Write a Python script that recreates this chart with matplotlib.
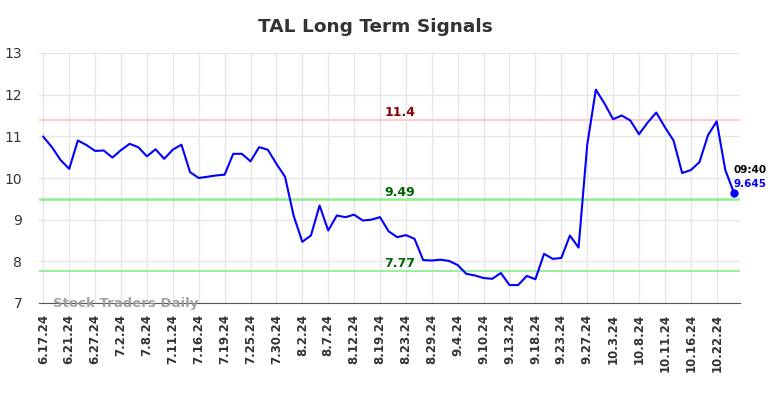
import matplotlib
import matplotlib.pyplot as plt

matplotlib.use("Agg")

# Price series (one value per trading session, oldest first)
prices = [
    10.99, 10.74, 10.43, 10.22, 10.90, 10.79, 10.65, 10.66, 10.49, 10.67,
    10.82, 10.74, 10.52, 10.69, 10.46, 10.68, 10.80, 10.14, 10.00, 10.03,
    10.06, 10.08, 10.58, 10.58, 10.40, 10.74, 10.68, 10.34, 10.03, 9.09,
    8.47, 8.62, 9.34, 8.74, 9.10, 9.06, 9.12, 8.98, 9.00, 9.06,
    8.72, 8.58, 8.63, 8.54, 8.03, 8.02, 8.04, 8.01, 7.91, 7.70,
    7.66, 7.60, 7.58, 7.72, 7.43, 7.43, 7.65, 7.57, 8.18, 8.06,
    8.08, 8.62, 8.33, 10.79, 12.12, 11.79, 11.41, 11.50, 11.38, 11.05,
    11.33, 11.57, 11.22, 10.90, 10.12, 10.19, 10.38, 11.03, 11.36, 10.19,
    9.645,
]

tick_labels = [
    "6.17.24", "6.21.24", "6.27.24", "7.2.24", "7.8.24", "7.11.24", "7.16.24",
    "7.19.24", "7.25.24", "7.30.24", "8.2.24", "8.7.24", "8.12.24", "8.19.24",
    "8.23.24", "8.29.24", "9.4.24", "9.10.24", "9.13.24", "9.18.24", "9.23.24",
    "9.27.24", "10.3.24", "10.8.24", "10.11.24", "10.16.24", "10.22.24",
]

resistance = 11.4
mid_level = 9.49
support = 7.77
last_time = "09:40"

fig = plt.figure(figsize=(7.84, 3.98), dpi=100)
ax = fig.add_axes([39 / 784, 95 / 398, 701 / 784, 250 / 398])

x = list(range(len(prices)))

# Grid and spines
ax.grid(True, color="#e6e6e6", linewidth=1)
ax.set_axisbelow(True)
for side in ["left", "right", "top"]:
    ax.spines[side].set_visible(False)
ax.spines["bottom"].set_color("#555555")

# Signal levels
ax.axhline(resistance, color="#ffcccc", linewidth=1.5)
ax.axhline(mid_level, color="#90ee90", linewidth=1.8)
ax.axhline(support, color="#90ee90", linewidth=1.3)

label_x = 41.3
ax.text(label_x, resistance + 0.17, f"{resistance}", color="#8b0000",
        fontsize=9, fontweight="bold", ha="center", va="center")
ax.text(label_x, mid_level + 0.17, f"{mid_level}", color="#006400",
        fontsize=9, fontweight="bold", ha="center", va="center")
ax.text(label_x, support + 0.17, f"{support}", color="#006400",
        fontsize=9, fontweight="bold", ha="center", va="center")

# Price line and last point
ax.plot(x, prices, color="blue", linewidth=1.5)
ax.plot(x[-1], prices[-1], "o", color="blue", markersize=5)
ax.text(x[-1], prices[-1] + 0.55, last_time, color="black", fontsize=7.5,
        fontweight="bold", ha="left", va="center")
ax.text(x[-1], prices[-1] + 0.22, f"{prices[-1]}", color="blue", fontsize=7.5,
        fontweight="bold", ha="left", va="center")

# Watermark
ax.text(1.1, 7.0, "Stock Traders Daily", color="#999999", fontsize=9.5,
        fontweight="bold", ha="left", va="center", alpha=0.9)

ax.set_xlim(-0.5, 80.7)
ax.set_ylim(7, 13)
ax.set_yticks(range(7, 14))
ax.set_xticks(range(0, 3 * len(tick_labels), 3))
ax.set_xticklabels(tick_labels, rotation=90, fontsize=8.5, color="#333333",
                   fontweight="bold")
ax.tick_params(axis="y", labelsize=10, colors="#333333", length=0, pad=12)
ax.tick_params(axis="x", length=0, pad=8)

fig.text(375 / 784, 1 - 27 / 398, "TAL Long Term Signals", fontsize=13.3,
         fontweight="bold", color="#333333", ha="center", va="center")

plt.savefig("out.png", dpi=100, facecolor="white")
plt.close()
